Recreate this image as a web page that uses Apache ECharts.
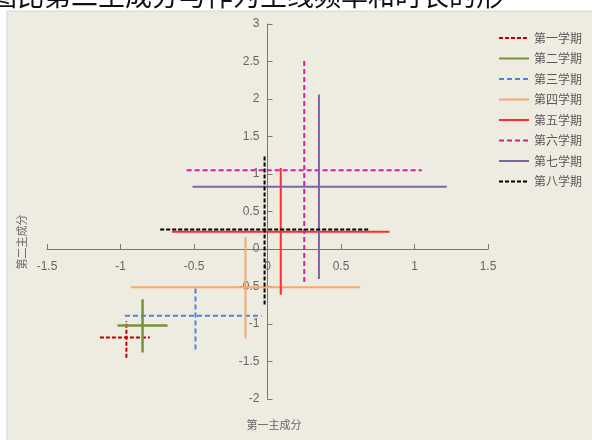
<!DOCTYPE html>
<html>
<head>
<meta charset="utf-8">
<script src="https://cdn.jsdelivr.net/npm/echarts@6/dist/echarts.min.js"></script>
<style>
  html, body { margin: 0; padding: 0; background: #fff; }
  #chartpc { width: 592px; height: 440px; }
</style>
</head>
<body>
<div id="chartpc"></div>
<script>
  // 各学期：中心点与两个主成分的范围
  let names = ['第一学期', '第二学期', '第三学期', '第四学期', '第五学期', '第六学期', '第七学期', '第八学期']
  let xCenter = [-0.96, -0.85, -0.49, -0.15, 0.09, 0.25, 0.35, -0.02]
  let yCenter = [-1.18, -1.02, -0.89, -0.51, 0.23, 1.05, 0.83, 0.26]
  let xLow = [-1.14, -1.02, -0.97, -0.93, -0.65, -0.55, -0.51, -0.73]
  let xHigh = [-0.80, -0.68, -0.04, 0.63, 0.83, 1.05, 1.22, 0.69]
  let yLow = [-1.45, -1.38, -1.34, -1.19, -0.61, -0.44, -0.40, -0.74]
  let yHigh = [-0.96, -0.67, -0.49, 0.16, 1.08, 2.51, 2.06, 1.26]
  let xTicks = [-1.5, -1, -0.5, 0, 0.5, 1, 1.5]
  let yTicks = [-2, -1.5, -1, -0.5, 0, 0.5, 1, 1.5, 2, 2.5, 3]

  let colors = ['#C00000', '#77933C', '#4A86D8', '#F8A96C', '#FF2A2A', '#D020A8', '#8064A2', '#000000']
  let lineTypes = [[4, 2], 'solid', [5, 3], 'solid', 'solid', [5, 3], 'solid', [4, 2]]
  let widths = [2, 2.5, 2, 2, 2, 2, 2, 2]

  let series = []
  names.forEach(function (n, i) {
    let style = { color: colors[i], width: widths[i], type: lineTypes[i] }
    // 横线
    series.push({
      name: n, type: 'line', symbol: 'none', silent: true,
      itemStyle: { color: colors[i] }, lineStyle: style,
      data: [[xLow[i], yCenter[i]], [xHigh[i], yCenter[i]]]
    })
    // 竖线
    series.push({
      name: n, type: 'line', symbol: 'none', silent: true,
      itemStyle: { color: colors[i] }, lineStyle: style,
      data: [[xCenter[i], yLow[i]], [xCenter[i], yHigh[i]]]
    })
  })

  let myChart = echarts.init(document.getElementById('chartpc'))
  let labelColor = '#666666'
  let lineColor = '#77776a'
  let option = {
    backgroundColor: '#ffffff',
    animation: false,
    textStyle: { fontFamily: 'Noto Sans CJK SC' },
    graphic: [
      {
        type: 'text', left: -10, top: -18, z: -20,
        style: { text: '图比第二主成分与作为主线频率和时长的形', fontSize: 27, fill: '#111', fontFamily: 'Noto Sans CJK SC' }
      },
      {
        type: 'rect', shape: { x: 7, y: 11, width: 600, height: 440 }, z: -10,
        style: { fill: '#EEEBE1', stroke: '#d6d6d6', lineWidth: 1 }
      },
      {
        type: 'text', x: 274, y: 425, z: 5,
        style: { text: '第一主成分', fontSize: 11, fill: labelColor, align: 'center', verticalAlign: 'middle', fontFamily: 'Noto Sans CJK SC' }
      },
      {
        type: 'text', x: 22, y: 242, rotation: Math.PI / 2, z: 5,
        style: { text: '第二主成分', fontSize: 11, fill: labelColor, align: 'center', verticalAlign: 'middle', fontFamily: 'Noto Sans CJK SC' }
      }
    ],
    legend: {
      orient: 'vertical',
      left: 493,
      top: 27,
      itemWidth: 30,
      itemHeight: 14,
      itemGap: 8.5,
      data: names,
      itemStyle: { opacity: 0 },
      textStyle: { color: '#595959', fontSize: 12, fontFamily: 'Noto Sans CJK SC' }
    },
    grid: { left: 47, right: 104, top: 24, bottom: 41, containLabel: false },
    xAxis: {
      type: 'value', min: xTicks[0], max: xTicks[xTicks.length - 1], interval: 0.5,
      position: 'bottom', offset: 0,
      axisLine: { onZero: false, lineStyle: { color: lineColor } },
      axisTick: { inside: true, length: 5, lineStyle: { color: lineColor } },
      axisLabel: { color: labelColor, fontSize: 12, margin: 12, fontFamily: 'Liberation Sans' },
      splitLine: { show: false }
    },
    yAxis: {
      type: 'value', min: yTicks[0], max: yTicks[yTicks.length - 1], interval: 0.5,
      position: 'left', offset: 0,
      axisLine: { show: true, onZero: false, lineStyle: { color: lineColor } },
      axisTick: { show: true, inside: true, length: 5, lineStyle: { color: lineColor } },
      axisLabel: { color: labelColor, fontSize: 12, margin: 8, fontFamily: 'Liberation Sans' },
      splitLine: { show: false }
    },
    series: series
  }
  myChart.setOption(option)

  // 让坐标轴（连同刻度标签）穿过原点
  let origin = myChart.convertToPixel({ gridIndex: 0 }, [0, 0])
  let corner = myChart.convertToPixel({ gridIndex: 0 }, [xTicks[0], yTicks[0]])
  myChart.setOption({
    xAxis: { offset: origin[1] - corner[1] },
    yAxis: { offset: corner[0] - origin[0] }
  })
</script>
</body>
</html>
